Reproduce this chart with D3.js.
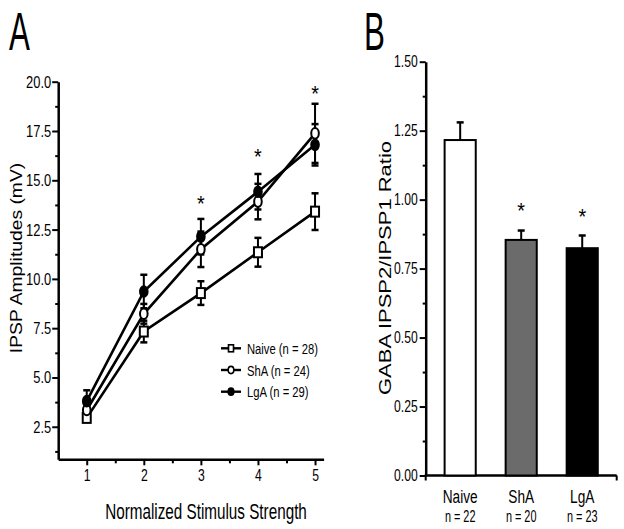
<!DOCTYPE html>
<html>
<head>
<meta charset="utf-8">
<script src="https://cdn.jsdelivr.net/npm/d3@7"></script>
<style>
  html, body { margin: 0; padding: 0; background: #fff; }
  svg { display: block; font-family: "Liberation Sans", Arial, sans-serif; }
</style>
</head>
<body>
<svg id="chart" width="624" height="529"></svg>
<script>
// ---------- Data: panel A ----------
const stimulus = [1, 2, 3, 4, 5];
const naiveMean = [2.95, 7.33, 9.28, 11.35, 13.41];
const naiveSem  = [0.2, 0.55, 0.6, 0.73, 0.93];
const shaMean   = [3.35, 8.23, 11.5, 13.92, 17.38];
const shaSem    = [0.3, 0.5, 0.9, 0.9, 1.5];
const lgaMean   = [3.8, 9.36, 12.14, 14.42, 16.8];
const lgaSem    = [0.55, 0.85, 0.9, 0.9, 1.05];
const legendLabels = ["Naive (n = 28)", "ShA (n = 24)", "LgA (n = 29)"];
const starStimA = [3, 4, 5];
const starValA  = [14.0, 16.4, 19.6];
const yTicksA = [2.5, 5.0, 7.5, 10.0, 12.5, 15.0, 17.5, 20.0];
const xTicksA = [1, 2, 3, 4, 5];

// ---------- Data: panel B ----------
const groups   = ["Naive", "ShA", "LgA"];
const groupN   = ["n = 22", "n = 20", "n = 23"];
const ratio    = [1.216, 0.854, 0.824];
const ratioSem = [0.064, 0.034, 0.046];
const starValB = [null, 0.975, 0.95];
const yTicksB  = [0, 0.25, 0.5, 0.75, 1.0, 1.25, 1.5];

const svg = d3.select("#chart");
const SX = 0.76; // horizontal condensation of text

function condText(g, x, y, txt, size, anchor, sx) {
  return g.append("text")
    .attr("transform", `translate(${x},${y}) scale(${sx || SX},1)`)
    .attr("text-anchor", anchor || "middle")
    .attr("font-size", size)
    .attr("fill", "#000")
    .text(txt);
}

// ================= Panel A =================
const gA = svg.append("g");
const xA = d3.scaleLinear().domain([0.5, 5.15]).range([58.2, 323.6]);
const yA = d3.scaleLinear().domain([0.85, 20]).range([459.3, 81.7]);

// minor ticks
const yMinorA = d3.range(1.25, 20, 2.5);
gA.append("g").attr("transform", `translate(${xA.range()[0]},0)`)
  .call(d3.axisLeft(yA).tickValues(yMinorA).tickSize(3).tickFormat(""))
  .call(g => g.select(".domain").remove())
  .call(g => g.selectAll("line").attr("stroke-width", 2));
const xMinorA = [1.5, 2.5, 3.5, 4.5];
gA.append("g").attr("transform", `translate(0,${yA.range()[0]})`)
  .call(d3.axisBottom(xA).tickValues(xMinorA).tickSize(4).tickFormat(""))
  .call(g => g.select(".domain").remove())
  .call(g => g.selectAll("line").attr("stroke-width", 2));

// major axes
const yAxA = gA.append("g").attr("transform", `translate(${xA.range()[0]},0)`)
  .call(d3.axisLeft(yA).tickValues(yTicksA).tickSize(6).tickSizeOuter(0).tickFormat(d3.format(".1f")));
yAxA.select(".domain").attr("stroke-width", 2.5);
yAxA.selectAll(".tick line").attr("stroke-width", 2);
yAxA.selectAll(".tick text").attr("font-size", 17).attr("x", null)
  .attr("transform", `translate(-7,0) scale(${SX},1)`).attr("fill", "#000");

const xAxA = gA.append("g").attr("transform", `translate(0,${yA.range()[0]})`)
  .call(d3.axisBottom(xA).tickValues(xTicksA).tickSize(6).tickSizeOuter(0).tickFormat(d3.format("d")));
xAxA.select(".domain").attr("stroke-width", 2.5);
xAxA.selectAll(".tick line").attr("stroke-width", 2);
xAxA.selectAll(".tick text").attr("font-size", 16).attr("y", 10)
  .attr("transform", `scale(${SX},1)`).attr("fill", "#000");

// Series
const seriesA = [
  { mean: naiveMean, sem: naiveSem, shape: "square" },
  { mean: shaMean,   sem: shaSem,   shape: "open" },
  { mean: lgaMean,   sem: lgaSem,   shape: "filled" }
];
const line = d3.line().x(d => xA(d.x)).y(d => yA(d.y));

seriesA.forEach(s => {
  const pts = stimulus.map((x, i) => ({ x, y: s.mean[i], e: s.sem[i] }));
  gA.append("path").datum(pts).attr("d", line)
    .attr("fill", "none").attr("stroke", "#000").attr("stroke-width", 2.6);
  const eb = gA.append("g");
  pts.forEach(p => {
    const cx = xA(p.x);
    eb.append("line").attr("x1", cx).attr("x2", cx)
      .attr("y1", yA(p.y - p.e)).attr("y2", yA(p.y + p.e))
      .attr("stroke", "#000").attr("stroke-width", 2);
    [p.y - p.e, p.y + p.e].forEach(v => {
      eb.append("line").attr("x1", cx - 3.5).attr("x2", cx + 3.5)
        .attr("y1", yA(v)).attr("y2", yA(v))
        .attr("stroke", "#000").attr("stroke-width", 2.5);
    });
  });
});
seriesA.forEach(s => {
  stimulus.forEach((x, i) => {
    const cx = xA(x), cy = yA(s.mean[i]);
    if (s.shape === "square") {
      gA.append("rect").attr("x", cx - 4).attr("y", cy - 5).attr("width", 8).attr("height", 10)
        .attr("fill", "#fff").attr("stroke", "#000").attr("stroke-width", 2);
    } else {
      gA.append("ellipse").attr("cx", cx).attr("cy", cy).attr("rx", 3.8).attr("ry", 5.3)
        .attr("fill", s.shape === "filled" ? "#000" : "#fff")
        .attr("stroke", "#000").attr("stroke-width", 2);
    }
  });
});

// asterisks
starStimA.forEach((x, i) => {
  condText(gA, xA(x), yA(starValA[i]) + 11, "*", 22, "middle", 0.9);
});

// legend
const legY = [348.3, 370, 391.7];
legendLabels.forEach((lab, i) => {
  const y = legY[i];
  gA.append("line").attr("x1", 221).attr("x2", 241).attr("y1", y).attr("y2", y)
    .attr("stroke", "#000").attr("stroke-width", 2.4);
  const s = seriesA[i].shape;
  if (s === "square") {
    gA.append("rect").attr("x", 228.5).attr("y", y - 3.5).attr("width", 5).attr("height", 7)
      .attr("fill", "#fff").attr("stroke", "#000").attr("stroke-width", 1.6);
  } else {
    gA.append("ellipse").attr("cx", 231).attr("cy", y).attr("rx", 2.8).attr("ry", 3.6)
      .attr("fill", s === "filled" ? "#000" : "#fff").attr("stroke", "#000").attr("stroke-width", 1.6);
  }
  condText(gA, 247, y + 5.5, lab, 15, "start", 0.75);
});

// titles
condText(gA, 206, 519, "Normalized Stimulus Strength", 21.5, "middle", 0.71);
gA.append("text")
  .attr("transform", "translate(22,258) rotate(-90) scale(1,0.82)")
  .attr("text-anchor", "middle").attr("font-size", 19.3).attr("fill", "#000")
  .text("IPSP Amplitudes (mV)");
condText(gA, 9, 50, "A", 54, "start", 0.58);

// ================= Panel B =================
const gB = svg.append("g");
const yB = d3.scaleLinear().domain([0, 1.5]).range([475.5, 61.7]);
const axisX0 = 425.7, axisX1 = 616.7;
const xB = d3.scaleBand().domain(groups).range([axisX0, axisX1])
  .paddingInner(0.49).paddingOuter(0.31);

// minor ticks
gB.append("g").attr("transform", `translate(${axisX0},0)`)
  .call(d3.axisLeft(yB).tickValues(d3.range(0.125, 1.5, 0.25)).tickSize(3).tickFormat(""))
  .call(g => g.select(".domain").remove())
  .call(g => g.selectAll("line").attr("stroke-width", 2));

const yAxB = gB.append("g").attr("transform", `translate(${axisX0},0)`)
  .call(d3.axisLeft(yB).tickValues(yTicksB).tickSize(6).tickSizeOuter(0).tickFormat(d3.format(".2f")));
yAxB.select(".domain").attr("stroke-width", 2.5);
yAxB.selectAll(".tick line").attr("stroke-width", 2);
yAxB.selectAll(".tick text").attr("font-size", 16).attr("x", null)
  .attr("transform", `translate(-8,0) scale(${SX},1)`).attr("fill", "#000");

// x axis line with end ticks
gB.append("line").attr("x1", axisX0 - 1).attr("x2", axisX1).attr("y1", yB(0)).attr("y2", yB(0))
  .attr("stroke", "#000").attr("stroke-width", 2.5);
[axisX0, axisX1].forEach(x => {
  gB.append("line").attr("x1", x).attr("x2", x).attr("y1", yB(0)).attr("y2", yB(0) + 5)
    .attr("stroke", "#000").attr("stroke-width", 2);
});

const fills = ["#ffffff", "#6b6b6b", "#000000"];
groups.forEach((g, i) => {
  const x = xB(g), w = xB.bandwidth(), cx = x + w / 2;
  const top = yB(ratio[i]);
  gB.append("line").attr("x1", cx).attr("x2", cx).attr("y1", top).attr("y2", yB(ratio[i] + ratioSem[i]))
    .attr("stroke", "#000").attr("stroke-width", 2);
  gB.append("line").attr("x1", cx - 3.5).attr("x2", cx + 3.5)
    .attr("y1", yB(ratio[i] + ratioSem[i])).attr("y2", yB(ratio[i] + ratioSem[i]))
    .attr("stroke", "#000").attr("stroke-width", 2.5);
  gB.append("rect").attr("x", x).attr("y", top).attr("width", w).attr("height", yB(0) - top)
    .attr("fill", fills[i]).attr("stroke", "#000").attr("stroke-width", 2);
  if (starValB[i] !== null) {
    condText(gB, cx, yB(starValB[i]) + 11, "*", 22, "middle", 0.9);
  }
  condText(gB, cx, 503, g, 19, "middle", 0.72);
  condText(gB, cx, 522, groupN[i], 16, "middle", 0.68);
});

gB.append("text")
  .attr("transform", "translate(391,268) rotate(-90) scale(1,0.76)")
  .attr("text-anchor", "middle").attr("font-size", 22).attr("fill", "#000")
  .text("GABA IPSP2/IPSP1 Ratio");
condText(gB, 364, 50, "B", 54, "start", 0.58);
</script>
</body>
</html>
